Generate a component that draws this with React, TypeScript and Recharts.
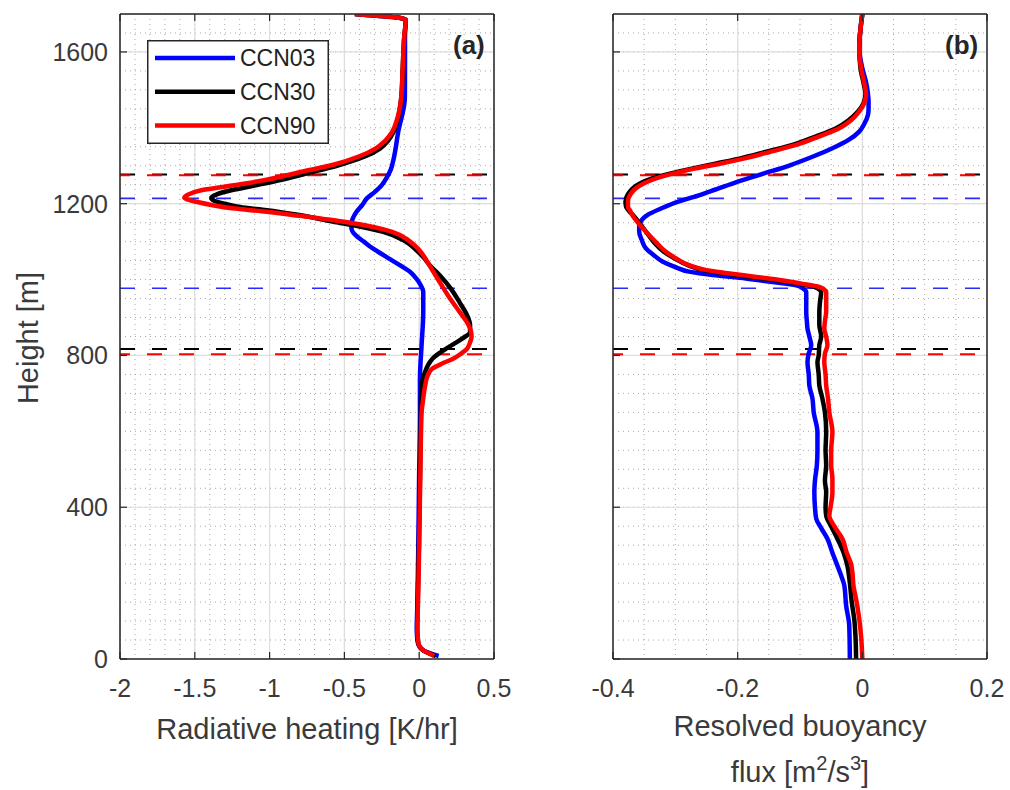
import React from 'react'
import {
  LineChart, Line, XAxis, YAxis, CartesianGrid, ReferenceLine, Legend,
} from 'recharts'

// profils verticaux : [hauteur m, valeur]
const heatCCN03: [number, number][] = [
  [1700, -0.43], [1685, -0.09], [1640, -0.095], [1560, -0.095], [1478, -0.096], [1390, -0.14],
  [1320, -0.17], [1290, -0.19], [1267, -0.22], [1249, -0.25], [1230, -0.3], [1214, -0.35],
  [1197, -0.38], [1178, -0.42], [1160, -0.445], [1145, -0.455], [1130, -0.45], [1115, -0.42],
  [1100, -0.37], [1082, -0.31], [1060, -0.22], [1038, -0.13], [1020, -0.06], [1003, -0.02], [985, 0.01],
  [968, 0.027], [915, 0.027], [827, 0.016], [739, 0.005], [650, 0.005], [500, 0.0],
  [300, -0.006], [150, -0.012], [80, -0.016], [50, -0.012], [35, -0.002], [22, 0.03],
  [14, 0.08], [8, 0.13],
]
const heatCCN30: [number, number][] = [
  [1700, -0.43], [1685, -0.09], [1640, -0.1], [1560, -0.11], [1480, -0.12], [1420, -0.145],
  [1390, -0.17], [1365, -0.21], [1346, -0.26], [1325, -0.36], [1300, -0.55], [1280, -0.75],
  [1263, -0.92], [1248, -1.1], [1236, -1.25], [1225, -1.35], [1216, -1.39], [1208, -1.37],
  [1200, -1.3], [1190, -1.18], [1183, -1.02], [1170, -0.8], [1153, -0.58], [1140, -0.4],
  [1126, -0.24], [1100, -0.09], [1078, -0.02], [1058, 0.03], [1038, 0.07], [1010, 0.14],
  [977, 0.21], [940, 0.27], [906, 0.32], [880, 0.34], [862, 0.34], [845, 0.29], [830, 0.23],
  [818, 0.18], [805, 0.13], [792, 0.09], [775, 0.06], [757, 0.04], [721, 0.016], [680, 0.012],
  [650, 0.011], [500, 0.006], [300, -0.002], [150, -0.01], [80, -0.014], [50, -0.01],
  [35, 0.0], [22, 0.03], [14, 0.07], [8, 0.11],
]
const heatCCN90: [number, number][] = [
  [1700, -0.43], [1685, -0.09], [1640, -0.1], [1560, -0.11], [1480, -0.12], [1420, -0.15],
  [1390, -0.18], [1365, -0.23], [1346, -0.29], [1325, -0.4], [1302, -0.58], [1283, -0.8],
  [1263, -1.02], [1248, -1.25], [1236, -1.45], [1225, -1.54], [1216, -1.57], [1210, -1.54],
  [1205, -1.49], [1196, -1.38], [1188, -1.25], [1179, -1.02], [1168, -0.8], [1150, -0.46],
  [1126, -0.18], [1100, -0.06], [1078, 0.0], [1050, 0.05], [1021, 0.094], [985, 0.15],
  [950, 0.206], [915, 0.27], [889, 0.317], [865, 0.345], [849, 0.35], [835, 0.34], [818, 0.32],
  [805, 0.28], [792, 0.23], [778, 0.15], [766, 0.09], [750, 0.06], [721, 0.04], [680, 0.025],
  [650, 0.016], [500, 0.008], [300, 0.0], [150, -0.008], [80, -0.012], [50, -0.008],
  [35, 0.0], [22, 0.03], [14, 0.07], [8, 0.1],
]

const fluxCCN03: [number, number][] = [
  [1700, 0.0], [1610, -0.005], [1557, 0.0], [1520, 0.006], [1490, 0.009], [1469, 0.01],
  [1450, 0.01], [1434, 0.009], [1410, 0.003], [1390, -0.005], [1368, -0.022], [1346, -0.048],
  [1325, -0.078], [1302, -0.115], [1276, -0.165], [1255, -0.205], [1232, -0.245],
  [1218, -0.27], [1206, -0.294], [1188, -0.322], [1170, -0.345], [1157, -0.354], [1140, -0.358],
  [1126, -0.358], [1105, -0.354], [1082, -0.347], [1065, -0.335], [1047, -0.32], [1033, -0.3],
  [1021, -0.278], [1012, -0.24], [1003, -0.187], [995, -0.15], [985, -0.106], [975, -0.094],
  [968, -0.09], [940, -0.09], [915, -0.09], [890, -0.089], [871, -0.088], [850, -0.085],
  [827, -0.082], [805, -0.086], [783, -0.088], [750, -0.086], [721, -0.085], [686, -0.08],
  [650, -0.078], [598, -0.072], [550, -0.072], [510, -0.073], [470, -0.076], [440, -0.077],
  [400, -0.076], [370, -0.074], [345, -0.066], [317, -0.056], [280, -0.048], [246, -0.04],
  [220, -0.034], [194, -0.029], [141, -0.026], [88, -0.021], [0, -0.02],
]
const fluxCCN30: [number, number][] = [
  [1700, 0.0], [1610, -0.005], [1557, -0.003], [1510, 0.003], [1490, 0.005], [1465, 0.002],
  [1443, -0.007], [1420, -0.022], [1399, -0.042], [1377, -0.075], [1355, -0.112], [1338, -0.152],
  [1320, -0.194], [1306, -0.234], [1293, -0.272], [1280, -0.307], [1267, -0.337], [1254, -0.356],
  [1241, -0.368], [1225, -0.376], [1206, -0.38], [1192, -0.379], [1180, -0.374], [1170, -0.368],
  [1150, -0.358], [1126, -0.347], [1100, -0.335], [1073, -0.318], [1055, -0.3], [1038, -0.28],
  [1025, -0.255], [1016, -0.22], [1007, -0.18], [999, -0.14], [990, -0.105], [981, -0.077],
  [975, -0.07], [968, -0.066], [940, -0.068], [915, -0.069], [880, -0.069], [850, -0.066],
  [827, -0.069], [800, -0.07], [783, -0.072], [750, -0.07], [721, -0.069], [686, -0.064],
  [650, -0.06], [598, -0.058], [550, -0.059], [510, -0.058], [470, -0.06], [440, -0.058],
  [400, -0.059], [378, -0.058], [350, -0.05], [317, -0.04], [280, -0.03], [246, -0.024],
  [200, -0.02], [150, -0.017], [106, -0.013], [60, -0.011], [0, -0.01],
]
const fluxCCN90: [number, number][] = [
  [1700, 0.0], [1610, -0.005], [1557, -0.002], [1510, 0.004], [1490, 0.006], [1465, 0.003],
  [1443, -0.005], [1420, -0.018], [1399, -0.037], [1377, -0.07], [1355, -0.106], [1338, -0.145],
  [1320, -0.187], [1306, -0.227], [1293, -0.267], [1280, -0.302], [1267, -0.331], [1254, -0.35],
  [1241, -0.363], [1225, -0.372], [1206, -0.376], [1192, -0.376], [1180, -0.372], [1170, -0.369],
  [1150, -0.36], [1126, -0.347], [1100, -0.332], [1073, -0.315], [1055, -0.298], [1038, -0.278],
  [1025, -0.25], [1016, -0.213], [1007, -0.17], [999, -0.133], [990, -0.1], [981, -0.069],
  [975, -0.062], [968, -0.058], [940, -0.058], [915, -0.058], [890, -0.06], [871, -0.061],
  [850, -0.058], [827, -0.056], [805, -0.06], [783, -0.061], [750, -0.059], [721, -0.058],
  [686, -0.055], [650, -0.053], [598, -0.048], [550, -0.05], [510, -0.05], [475, -0.048],
  [440, -0.048], [400, -0.051], [378, -0.053], [350, -0.045], [317, -0.032], [280, -0.025],
  [250, -0.018], [229, -0.016], [190, -0.014], [158, -0.01], [106, -0.005], [60, -0.002], [0, 0.0],
]

// hauteurs des lignes pointillées (sommet / base de nuage)
const levelsCCN03 = [1214, 977]
const levelsCCN30 = [1277, 817]
const levelsCCN90 = [1275, 803]

const yTicks = [0, 400, 800, 1200, 1600]
const heatTicks = [-2, -1.5, -1, -0.5, 0, 0.5]
const fluxTicks = [-0.4, -0.2, 0, 0.2]

const SERIES = [
  { name: 'CCN03', color: '#0000ff' },
  { name: 'CCN30', color: '#000000' },
  { name: 'CCN90', color: '#ff0000' },
]

const FONT = '"Liberation Sans", Arial, Helvetica, sans-serif'
const AX = '#262626'
const TXT = '#3a3a3a'
const H_MAX = 1700

const steps = (a: number, b: number, s: number) => {
  const out: number[] = []
  for (let i = 0; a + i * s <= b + 1e-9; i++) out.push(+(a + i * s).toFixed(4))
  return out
}

const toPts = (arr: [number, number][]) => arr.map(([h, v]) => ({ h, v }))

function Tick(props: any) {
  const { x, y, payload, side, label } = props
  const L = 7
  const txt = String(payload.value)
  if (side === 'bottom') {
    return (
      <g>
        <line x1={x} x2={x} y1={y} y2={y - L} stroke={AX} strokeWidth={1.2} />
        {label && <text x={x} y={y + 38} textAnchor="middle" fontSize={25} fill={TXT} fontFamily={FONT}>{txt}</text>}
      </g>
    )
  }
  if (side === 'top') return <line x1={x} x2={x} y1={y} y2={y + L} stroke={AX} strokeWidth={1.2} />
  if (side === 'right') return <line x1={x} x2={x - L} y1={y} y2={y} stroke={AX} strokeWidth={1.2} />
  return (
    <g>
      <line x1={x} x2={x + L} y1={y} y2={y} stroke={AX} strokeWidth={1.2} />
      {label && <text x={x - 12} y={y} dy="0.36em" textAnchor="end" fontSize={25} fill={TXT} fontFamily={FONT}>{txt}</text>}
    </g>
  )
}

function LegendBox() {
  return (
    <svg width={182} height={104} style={{ display: 'block' }}>
      <rect x={0.75} y={0.75} width={180.5} height={102.5} fill="#fff" stroke={AX} strokeWidth={1.5} />
      {SERIES.map((s, i) => {
        const cy = 18 + i * 33.7
        return (
          <g key={s.name}>
            <line x1={8} x2={88} y1={cy} y2={cy} stroke={s.color} strokeWidth={4.5} />
            <text x={93} y={cy} dy="0.36em" fontSize={23} fill="#222" fontFamily={FONT}>{s.name}</text>
          </g>
        )
      })}
    </svg>
  )
}

function Panel({ left, width, yAxisWidth, rightMargin, xDomain, xTicks, minorStep, series, showY, tag, title }: any) {
  return (
    <div style={{ position: 'absolute', left, top: 0 }}>
      <LineChart width={width} height={790} layout="vertical"
        margin={{ top: 13, right: rightMargin, bottom: 1, left: 0 }}>
        <CartesianGrid horizontalValues={steps(0, H_MAX, 50)} verticalValues={steps(xDomain[0], xDomain[1], minorStep)}
          stroke="#a8a8a8" strokeDasharray="1 4" />
        <CartesianGrid stroke="#dedede" strokeWidth={1.2} />
        <XAxis type="number" domain={xDomain} ticks={xTicks} allowDataOverflow interval={0}
          height={130} tickSize={0} tickMargin={0} tickLine={false} axisLine={{ stroke: AX, strokeWidth: 1.5 }}
          tick={(p: any) => <Tick {...p} side="bottom" label />}
          label={{ content: (p: any) => title(p.viewBox) }} />
        <XAxis xAxisId="top" orientation="top" type="number" domain={xDomain} ticks={xTicks} allowDataOverflow interval={0}
          height={1} tickSize={0} tickMargin={0} tickLine={false} axisLine={{ stroke: AX, strokeWidth: 1.5 }}
          tick={(p: any) => <Tick {...p} side="top" />} />
        <YAxis type="number" dataKey="h" domain={[0, H_MAX]} ticks={yTicks} allowDataOverflow interval={0} reversed
          width={yAxisWidth} tickSize={0} tickMargin={0} tickLine={false} axisLine={{ stroke: AX, strokeWidth: 1.5 }}
          tick={(p: any) => <Tick {...p} side="left" label={showY} />}
          label={showY ? {
            content: () => (
              <text x={38} y={338} transform="rotate(-90, 38, 338)" textAnchor="middle" fontSize={29} fill={TXT} fontFamily={FONT}>Height [m]</text>
            ),
          } : undefined} />
        <YAxis yAxisId="right" orientation="right" type="number" domain={[0, H_MAX]} ticks={yTicks} allowDataOverflow interval={0} reversed
          width={1} tickSize={0} tickMargin={0} tickLine={false} axisLine={{ stroke: AX, strokeWidth: 1.5 }}
          tick={(p: any) => <Tick {...p} side="right" />} />
        {levelsCCN30.map((h) => (
          <ReferenceLine key={'k' + h} y={h} stroke="#000" strokeWidth={2} strokeDasharray="15 17" />
        ))}
        {levelsCCN90.map((h) => (
          <ReferenceLine key={'r' + h} y={h} stroke="#ff0000" strokeWidth={2} strokeDasharray="15 17" strokeDashoffset={5} />
        ))}
        {levelsCCN03.map((h) => (
          <ReferenceLine key={'b' + h} y={h} stroke="#2a2aff" strokeWidth={1.6} strokeDasharray="15 17" />
        ))}
        {SERIES.map((s, i) => (
          <Line key={s.name} name={s.name} data={toPts(series[i])} dataKey="v" type="monotone"
            stroke={s.color} strokeWidth={4.5} dot={false} isAnimationActive={false} />
        ))}
        {showY && (
          <Legend layout="vertical" align="center" verticalAlign="middle"
            wrapperStyle={{ left: 147, top: 40, width: 182 }} content={() => <LegendBox />} />
        )}
      </LineChart>
      <div style={{ position: 'absolute', left: tag.x, top: 30, fontFamily: FONT, fontWeight: 'bold', fontSize: 26, color: '#262626' }}>
        {tag.text}
      </div>
    </div>
  )
}

export default function App() {
  return (
    <div style={{ position: 'absolute', left: 0, top: 0, width: 1010, height: 790, background: '#fff' }}>
      <Panel left={0} width={520} yAxisWidth={120} rightMargin={25} xDomain={[-2, 0.5]} xTicks={heatTicks}
        minorStep={0.1} series={[heatCCN03, heatCCN30, heatCCN90]} showY tag={{ x: 453, text: '(a)' }}
        title={(vb: any) => (
          <text x={vb.x + vb.width / 2} y={vb.y + 80} textAnchor="middle" fontSize={29} fill={TXT} fontFamily={FONT}>
            Radiative heating [K/hr]
          </text>
        )} />
      <Panel left={500} width={510} yAxisWidth={113} rightMargin={22} xDomain={[-0.4, 0.2]} xTicks={fluxTicks}
        minorStep={0.05} series={[fluxCCN03, fluxCCN30, fluxCCN90]} showY={false} tag={{ x: 445, text: '(b)' }}
        title={(vb: any) => (
          <text x={vb.x + vb.width / 2} textAnchor="middle" fontSize={29} fill={TXT} fontFamily={FONT}>
            <tspan x={vb.x + vb.width / 2} y={vb.y + 77}>Resolved buoyancy</tspan>
            <tspan x={vb.x + vb.width / 2} y={vb.y + 123}>flux [m</tspan>
            <tspan fontSize={20} dy={-12}>2</tspan>
            <tspan dy={12}>/s</tspan>
            <tspan fontSize={20} dy={-12}>3</tspan>
            <tspan dy={12}>]</tspan>
          </text>
        )} />
    </div>
  )
}
